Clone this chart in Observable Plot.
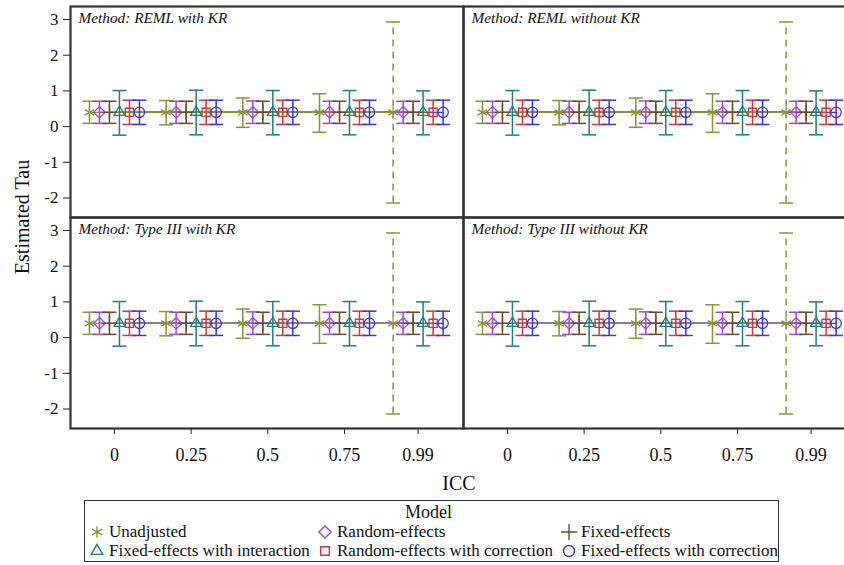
<!DOCTYPE html>
<html>
<head>
<meta charset="utf-8">
<script src="https://cdn.jsdelivr.net/npm/d3@7"></script>
<script src="https://cdn.jsdelivr.net/npm/@observablehq/plot@0.6"></script>
<style>
  html, body { margin: 0; padding: 0; background: #fff; overflow: hidden; }
  #wrap { position: relative; width: 844px; height: 565px; overflow: hidden; font-family: "Liberation Serif", "Times New Roman", serif; color: #111; }
  #chart { position: absolute; left: 0; top: 0; width: 856px; }
  #chart svg { max-width: none !important; }
  .ylab { position: absolute; left: 22px; top: 217px; transform: translate(-50%, -50%) rotate(-90deg); font-size: 20px; white-space: nowrap; }
  .xlab { position: absolute; left: 459px; top: 483px; transform: translate(-50%, -50%); font-size: 20px; }
  .legend { position: absolute; left: 84px; top: 500px; width: 695px; height: 62px; border: 1.5px solid #333; box-sizing: border-box; }
  .legend .title { text-align: center; font-size: 18px; line-height: 20px; margin-top: 1px; margin-left: -6px; }
  .legend .grid { display: grid; grid-template-columns: 228px 244px 220px; padding-left: 4px; }
  .legend .item { display: flex; align-items: center; font-family: "Liberation Serif", serif; font-size: 17px; line-height: 19px; white-space: nowrap; }
  .legend .item svg { margin-right: 4px; flex: none; }
</style>
</head>
<body>
<div id="wrap">
  <div id="chart"></div>
  <div class="ylab">Estimated Tau</div>
  <div class="xlab">ICC</div>
  <div class="legend" id="legend"></div>
</div>
<script>
// ---- data ----
const iccLevels = [0, 0.25, 0.5, 0.75, 0.99];
const iccTickLabels = ["0", "0.25", "0.5", "0.75", "0.99"];
const yTicks = [3, 2, 1, 0, -1, -2];
const methods = ["REML", "Type III"];
const krOptions = ["with KR", "without KR"];
const models = [
  "Unadjusted",
  "Random-effects",
  "Fixed-effects",
  "Fixed-effects with interaction",
  "Random-effects with correction",
  "Fixed-effects with correction"
];
const modelColors = ["#8a9433", "#a045e0", "#6e4a26", "#1c7f78", "#d0343c", "#3434f0"];
const modelSymbols = ["asterisk", "diamond2", "plus", "triangle2", "square2", "circle"];

const estUnadjusted = [0.40, 0.40, 0.40, 0.40, 0.40];
const lowUnadjusted = [0.09, 0.05, -0.02, -0.16, -2.14];
const highUnadjusted = [0.71, 0.73, 0.80, 0.92, 2.93];

const estRandom = [0.40, 0.40, 0.40, 0.40, 0.40];
const lowRandom = [0.09, 0.09, 0.09, 0.09, 0.09];
const highRandom = [0.71, 0.71, 0.72, 0.71, 0.71];

const estFixed = [0.40, 0.40, 0.40, 0.40, 0.40];
const lowFixed = [0.09, 0.09, 0.09, 0.09, 0.09];
const highFixed = [0.71, 0.71, 0.71, 0.71, 0.71];

const estInteraction = [0.40, 0.40, 0.40, 0.40, 0.40];
const lowInteraction = [-0.24, -0.23, -0.23, -0.23, -0.23];
const highInteraction = [1.01, 1.02, 1.01, 1.01, 1.00];

const estRandomCorr = [0.40, 0.40, 0.40, 0.40, 0.40];
const lowRandomCorr = [0.06, 0.06, 0.06, 0.06, 0.06];
const highRandomCorr = [0.74, 0.74, 0.74, 0.74, 0.74];

const estFixedCorr = [0.40, 0.40, 0.40, 0.40, 0.40];
const lowFixedCorr = [0.06, 0.06, 0.06, 0.06, 0.06];
const highFixedCorr = [0.74, 0.74, 0.74, 0.74, 0.74];

// ---- build table ----
const seriesEst = [estUnadjusted, estRandom, estFixed, estInteraction, estRandomCorr, estFixedCorr];
const seriesLow = [lowUnadjusted, lowRandom, lowFixed, lowInteraction, lowRandomCorr, lowFixedCorr];
const seriesHigh = [highUnadjusted, highRandom, highFixed, highInteraction, highRandomCorr, highFixedCorr];

const rows = [];
for (const method of methods) {
  for (const kr of krOptions) {
    models.forEach((model, i) => {
      iccLevels.forEach((icc, j) => {
        rows.push({method, kr, model, mi: i, icc, est: seriesEst[i][j], low: seriesLow[i][j], high: seriesHigh[i][j]});
      });
    });
  }
}
const panels = [];
for (const method of methods) for (const kr of krOptions) panels.push({method, kr, label: `Method: ${method} ${kr}`});

const capSymbol = {
  draw(ctx, size) {
    const r = Math.sqrt(size / Math.PI);
    ctx.moveTo(-r, 0);
    ctx.lineTo(r, 0);
  }
};

const spacing = 10;
const marks = [];
for (let i = models.length - 1; i >= 0; i--) {
  const data = rows.filter(d => d.mi === i);
  marks.push(Plot.line(data, {x: "icc", y: "est", fx: "kr", fy: "method", z: null, stroke: modelColors[i], strokeWidth: 1.2, dx: (i - 2.5) * spacing}));
}
models.forEach((model, i) => {
  const data = rows.filter(d => d.mi === i);
  const dx = (i - 2.5) * spacing;
  const wide = d => d.high - d.low > 3;
  const common = {x: "icc", fx: "kr", fy: "method", stroke: modelColors[i], dx};
  marks.push(Plot.ruleX(data.filter(d => !wide(d)), {...common, y1: "low", y2: "high", strokeWidth: 1.5}));
  marks.push(Plot.ruleX(data.filter(wide), {...common, y1: "low", y2: "high", strokeWidth: 1.5, strokeDasharray: "7,5"}));
  marks.push(Plot.dot(data, {...common, y: "high", symbol: capSymbol, r: 7, strokeWidth: 1.5}));
  marks.push(Plot.dot(data, {...common, y: "low", symbol: capSymbol, r: 7, strokeWidth: 1.5}));
  marks.push(Plot.dot(data, {...common, y: "est", symbol: modelSymbols[i], r: 5.2, fill: "none", strokeWidth: 1.3}));
});

const chart = Plot.plot({
  width: 856,
  height: 493,
  marginLeft: 69,
  marginRight: 0,
  marginTop: 6,
  marginBottom: 65,
  style: "font-family: 'Liberation Serif', 'Times New Roman', serif; font-size: 17px; background: white; color: #111; max-width: none;",
  fx: {domain: krOptions, padding: 0, axis: null},
  fy: {domain: methods, padding: 0, axis: null},
  x: {domain: [-0.1433, 1.138]},
  y: {domain: [-2.546, 3.364]},
  marks: [
    Plot.axisY({ticks: yTicks, tickFormat: d => String(d), tickSize: 7, tickPadding: 5, label: null, fontSize: 17, stroke: "#222"}),
    Plot.axisX({ticks: iccLevels, tickFormat: d => iccTickLabels[iccLevels.indexOf(d)], tickSize: 6, tickPadding: 14, label: null, fontSize: 18, stroke: "#222"}),
    ...marks,
    Plot.text(panels, {fx: "kr", fy: "method", text: "label", frameAnchor: "top-left", dx: 8, dy: 6, fontStyle: "italic", fontSize: 15.3, fill: "#111"}),
    Plot.frame({stroke: "#333", strokeWidth: 2.2})
  ]
});
document.getElementById("chart").appendChild(chart);

// ---- legend ----
const legend = document.getElementById("legend");
const title = document.createElement("div");
title.className = "title";
title.textContent = "Model";
legend.appendChild(title);
const grid = document.createElement("div");
grid.className = "grid";
legend.appendChild(grid);
const symbolMap = {asterisk: d3.symbolAsterisk, diamond2: d3.symbolDiamond2, plus: d3.symbolPlus, triangle2: d3.symbolTriangle2, square2: d3.symbolSquare2, circle: d3.symbolCircle};
models.forEach((model, i) => {
  const item = document.createElement("div");
  item.className = "item";
  const svg = d3.create("svg").attr("width", 16).attr("height", 16).attr("viewBox", "-8 -8 16 16");
  svg.append("path")
    .attr("d", d3.symbol(symbolMap[modelSymbols[i]], Math.PI * 5.5 * 5.5)())
    .attr("fill", "none").attr("stroke", modelColors[i]).attr("stroke-width", 1.4);
  item.appendChild(svg.node());
  const span = document.createElement("span");
  span.textContent = model;
  item.appendChild(span);
  grid.appendChild(item);
});
</script>
</body>
</html>
